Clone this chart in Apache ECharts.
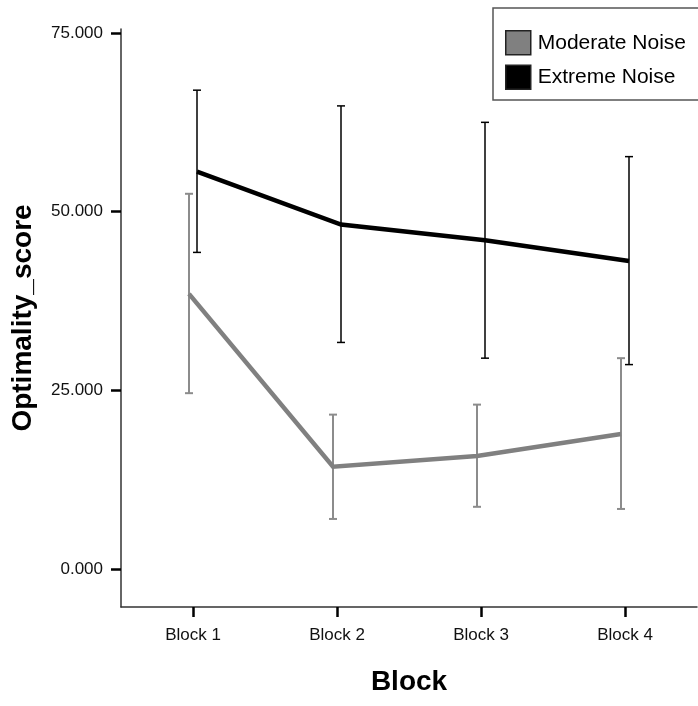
<!DOCTYPE html>
<html>
<head>
<meta charset="utf-8">
<script src="https://cdn.jsdelivr.net/npm/echarts@6/dist/echarts.min.js"></script>
<style>html,body{margin:0;padding:0;background:#fff}#c{width:698px;height:706px}</style>
</head>
<body>
<div id="c"></div>
<script>
const categories = ['Block 1', 'Block 2', 'Block 3', 'Block 4'];
const yTicks = [0, 25, 50, 75];
const moderateMean = [38.5, 14.3, 15.8, 18.9];
const moderateLow = [24.6, 7.0, 8.7, 8.4];
const moderateHigh = [52.5, 21.6, 23.0, 29.5];
const extremeMean = [55.6, 48.2, 46.0, 43.1];
const extremeLow = [44.3, 31.7, 29.5, 28.6];
const extremeHigh = [67.0, 64.8, 62.5, 57.7];

function makeSeries(name, means, lows, highs, color, barColor, barWidth, off) {
  return {
    type: 'custom',
    name: name,
    itemStyle: { color: color },
    data: categories.map((c, i) => [i, means[i], lows[i], highs[i]]),
    encode: { x: 0, y: [1, 2, 3] },
    renderItem: function (params, api) {
      const i = api.value(0);
      const lo = api.coord([i, api.value(2)]);
      const hi = api.coord([i, api.value(3)]);
      const x = lo[0] + off;
      const cap = 4;
      const children = [
        { type: 'line', shape: { x1: x, y1: lo[1], x2: x, y2: hi[1] }, style: { stroke: barColor, lineWidth: barWidth } },
        { type: 'line', shape: { x1: x - cap, y1: lo[1], x2: x + cap, y2: lo[1] }, style: { stroke: barColor, lineWidth: barWidth } },
        { type: 'line', shape: { x1: x - cap, y1: hi[1], x2: x + cap, y2: hi[1] }, style: { stroke: barColor, lineWidth: barWidth } }
      ];
      if (params.dataIndex === means.length - 1) {
        const pts = means.map((v, j) => { const p = api.coord([j, v]); return [p[0] + off, p[1]]; });
        children.push({ type: 'polyline', shape: { points: pts }, style: { stroke: color, lineWidth: 4.5, fill: null, lineJoin: 'miter' } });
      }
      return { type: 'group', children: children };
    }
  };
}

const chart = echarts.init(document.getElementById('c'), null, { renderer: 'canvas' });
chart.setOption({
  animation: false,
  backgroundColor: '#fff',
  grid: { left: 121, right: 1, top: 29, bottom: 99, containLabel: false },
  legend: {
    left: 493, top: 8,
    orient: 'vertical',
    padding: [22, 21, 10, 12],
    itemGap: 9,
    itemWidth: 25, itemHeight: 24,
    borderColor: '#555', borderWidth: 1.5,
    backgroundColor: '#fff',
    textStyle: { fontFamily: 'Liberation Sans', fontSize: 21, color: '#000', padding: [0, 0, 0, 2] },
    data: [
      { name: 'Moderate Noise', icon: 'rect', itemStyle: { color: '#808080', borderColor: '#222', borderWidth: 1.5 } },
      { name: 'Extreme Noise', icon: 'rect', itemStyle: { color: '#000', borderColor: '#222', borderWidth: 1.5 } }
    ]
  },
  xAxis: {
    type: 'category',
    data: categories,
    boundaryGap: true,
    name: 'Block',
    nameLocation: 'middle',
    nameGap: 61,
    nameTextStyle: { fontFamily: 'Liberation Sans', fontSize: 28, fontWeight: 'bold', color: '#000' },
    axisLine: { show: true, onZero: false, lineStyle: { color: '#333', width: 1.5 } },
    axisTick: { show: true, interval: 0, inside: false, alignWithLabel: true, length: 10, lineStyle: { color: '#000', width: 2.5 } },
    axisLabel: { margin: 20, interval: 0, fontFamily: 'Liberation Sans', fontSize: 17, color: '#111' },
    splitLine: { show: false }
  },
  yAxis: {
    type: 'value',
    min: -5.32, max: 75.56,
    name: 'Optimality_score',
    nameLocation: 'middle',
    nameRotate: 90,
    nameGap: 84,
    nameTextStyle: { fontFamily: 'Liberation Sans', fontSize: 28, fontWeight: 'bold', color: '#000' },
    axisLine: { show: true, onZero: false, lineStyle: { color: '#333', width: 1.5 } },
    axisTick: { show: true, length: 10, customValues: yTicks, lineStyle: { color: '#000', width: 2.5 } },
    axisLabel: { margin: 18, customValues: yTicks, fontFamily: 'Liberation Sans', fontSize: 17, color: '#111', formatter: v => v.toFixed(3) },
    splitLine: { show: false }
  },
  series: [
    makeSeries('Moderate Noise', moderateMean, moderateLow, moderateHigh, '#808080', '#8c8c8c', 2, -4),
    makeSeries('Extreme Noise', extremeMean, extremeLow, extremeHigh, '#000', '#000', 1.5, 4)
  ]
});
</script>
</body>
</html>
